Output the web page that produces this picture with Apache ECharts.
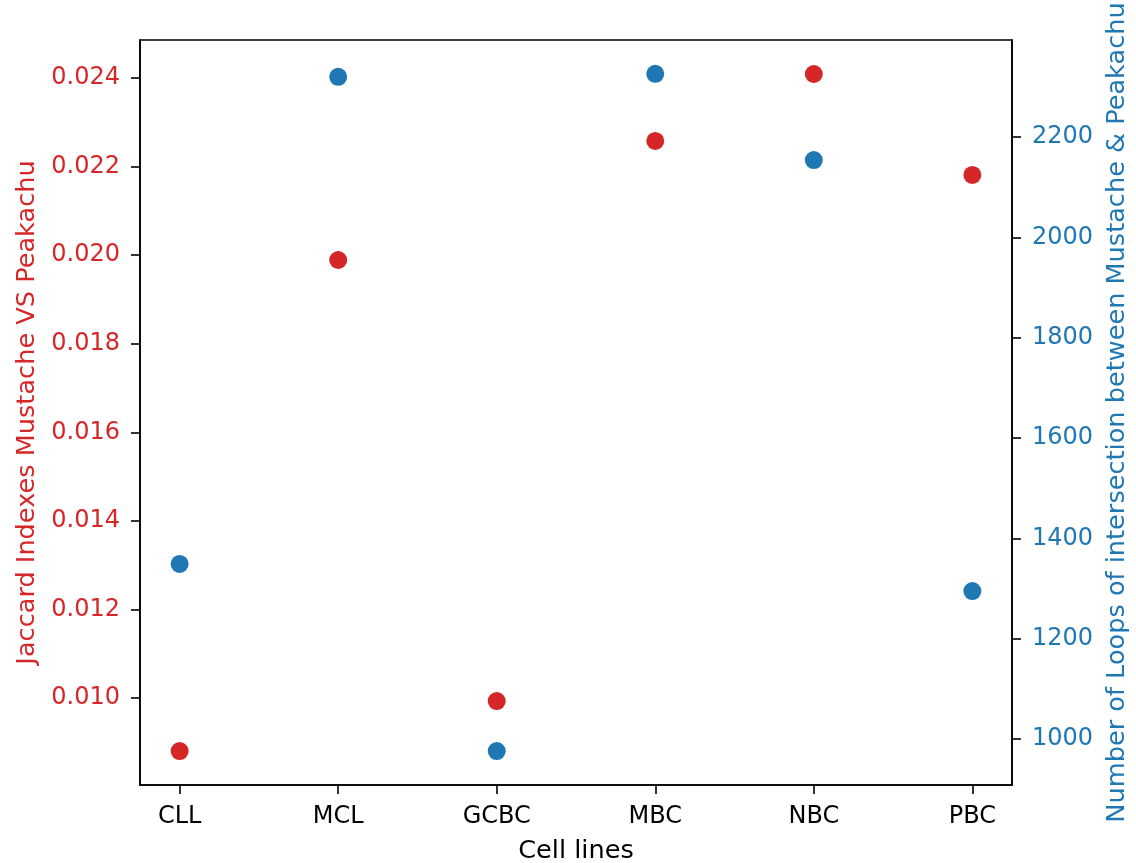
<!DOCTYPE html>
<html>
<head>
<meta charset="utf-8">
<script src="https://cdn.jsdelivr.net/npm/echarts@6/dist/echarts.min.js"></script>
<style>html,body{margin:0;padding:0;background:#fff;}#c{width:1136px;height:863px;}</style>
</head>
<body>
<div id="c"></div>
<script>
const categories = ['CLL', 'MCL', 'GCBC', 'MBC', 'NBC', 'PBC'];
const jaccard = [0.00880, 0.01989, 0.00993, 0.02258, 0.02409, 0.02181];
const loops = [1349, 2320, 976, 2326, 2154, 1295];
const leftTicks = [0.010, 0.012, 0.014, 0.016, 0.018, 0.020, 0.022, 0.024];
const rightTicks = [1000, 1200, 1400, 1600, 1800, 2000, 2200];

const RED = '#d62728', BLUE = '#1f77b4';
const FONT = 'DejaVu Sans';
const FS = 24;
const TFS = 25.6;
const chart = echarts.init(document.getElementById('c'), null, {renderer: 'canvas'});
const xIdx = categories.map((_, i) => i);
chart.setOption({
  animation: false,
  backgroundColor: '#fff',
  grid: {left: 140, right: 124, top: 40, bottom: 78, containLabel: false, outerBoundsMode: 'none',
    show: true, borderColor: '#000', borderWidth: 1.6, backgroundColor: 'transparent'},
  xAxis: {
    type: 'value', min: -0.25, max: 5.25,
    name: 'Cell lines', nameLocation: 'middle', nameGap: 53,
    nameTextStyle: {fontFamily: FONT, fontSize: TFS, color: '#000'},
    axisLine: {show: true, onZero: false, lineStyle: {color: '#000', width: 1.6}},
    axisTick: {show: true, length: 9, lineStyle: {color: '#000', width: 1.6}, customValues: xIdx},
    axisLabel: {fontFamily: FONT, fontSize: FS, color: '#000', margin: 20, customValues: xIdx,
      formatter: v => categories[Math.round(v)] || ''},
    splitLine: {show: false}
  },
  yAxis: [{
    type: 'value', position: 'left', min: 0.008035, max: 0.024858,
    name: 'Jaccard Indexes Mustache VS Peakachu', nameLocation: 'middle', nameGap: 100,
    nameTextStyle: {fontFamily: FONT, fontSize: TFS, color: RED},
    axisLine: {show: true, onZero: false, lineStyle: {color: '#000', width: 1.6}},
    axisTick: {show: true, length: 9, lineStyle: {color: '#000', width: 1.6}, customValues: leftTicks},
    axisLabel: {fontFamily: FONT, fontSize: FS, color: RED, margin: 20, customValues: leftTicks,
      formatter: v => v.toFixed(3)},
    splitLine: {show: false}
  }, {
    type: 'value', position: 'right', min: 908.3, max: 2393.4,
    name: 'Number of Loops of intersection between Mustache & Peakachu', nameLocation: 'middle', nameGap: 92,
    nameTextStyle: {fontFamily: FONT, fontSize: TFS, color: BLUE},
    axisLine: {show: true, onZero: false, lineStyle: {color: '#000', width: 1.6}},
    axisTick: {show: true, length: 9, lineStyle: {color: '#000', width: 1.6}, customValues: rightTicks},
    axisLabel: {fontFamily: FONT, fontSize: FS, color: BLUE, margin: 20, customValues: rightTicks,
      formatter: v => String(v)},
    splitLine: {show: false}
  }],
  series: [{
    type: 'scatter', yAxisIndex: 0, symbolSize: 18,
    itemStyle: {color: RED, opacity: 1},
    data: jaccard.map((v, i) => [i, v])
  }, {
    type: 'scatter', yAxisIndex: 1, symbolSize: 18,
    itemStyle: {color: BLUE, opacity: 1},
    data: loops.map((v, i) => [i, v])
  }]
});
</script>
</body>
</html>
